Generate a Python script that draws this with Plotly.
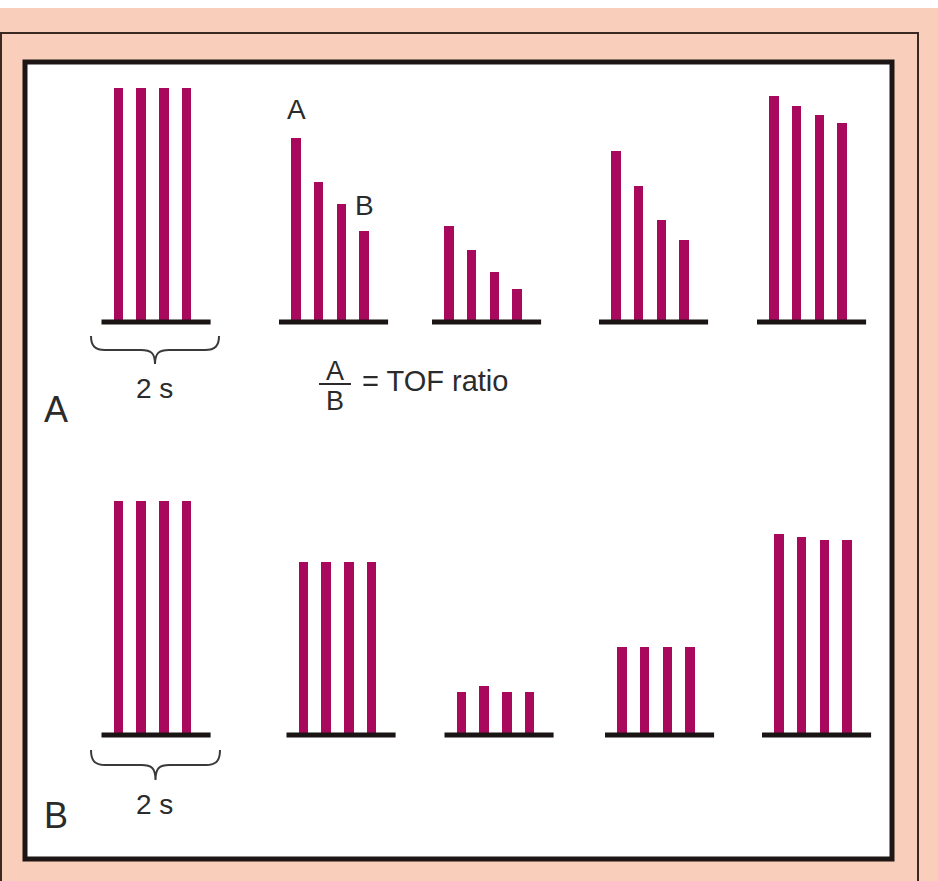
import plotly.graph_objects as go

# ---------------- data (twitch height, % of control) ----------------
panel_A_trains = [
    [100.0, 100.0, 100.0, 100.0],
    [78.6, 59.8, 50.4, 38.9],
    [41.0, 30.8, 21.4, 14.1],
    [73.1, 58.1, 43.6, 35.0],
    [96.6, 92.3, 88.5, 85.0],
]
panel_B_trains = [
    [100.0, 100.0, 100.0, 100.0],
    [74.0, 74.0, 74.0, 74.0],
    [18.4, 20.9, 18.4, 18.4],
    [37.6, 37.6, 37.6, 37.6],
    [85.9, 84.6, 83.3, 83.3],
]
panel_labels = ["A", "B"]
time_label = "2 s"
ratio_label = "= TOF ratio"

# ---------------- layout parameters (pixels) ----------------
W, H = 938, 881
A_starts = [118.5, 296, 449, 616, 774]
B_starts = [118.5, 303.5, 461.5, 622, 779]
STEP = 22.7
BAR_W = 9.5
A_base, B_base = 322, 735
PX_PER_PCT = 2.34
BAR_COLOR = "#A8095C"
INK = "#2b2b2b"
FONT = "Liberation Sans, Arial, sans-serif"


def px(x):
    return x / W


def py(y):
    return 1 - y / H


def positions(starts, trains):
    xs, ys = [], []
    for s, tr in zip(starts, trains):
        for i, v in enumerate(tr):
            xs.append(s + i * STEP)
            ys.append(v)
    return xs, ys


fig = go.Figure()
xa, ya = positions(A_starts, panel_A_trains)
xb, yb = positions(B_starts, panel_B_trains)
fig.add_trace(go.Bar(x=xa, y=ya, width=BAR_W, marker=dict(color=BAR_COLOR, line=dict(width=0)),
                     yaxis="y", showlegend=False, hoverinfo="skip"))
fig.add_trace(go.Bar(x=xb, y=yb, width=BAR_W, marker=dict(color=BAR_COLOR, line=dict(width=0)),
                     yaxis="y2", showlegend=False, hoverinfo="skip"))

shapes = []
# background & frames
shapes.append(dict(type="rect", xref="paper", yref="paper", x0=0, x1=1, y0=0, y1=py(8),
                   fillcolor="#F9CFBB", line=dict(width=0), layer="below"))
shapes.append(dict(type="rect", xref="paper", yref="paper", x0=px(1), x1=px(918), y0=py(900), y1=py(33),
                   fillcolor="rgba(0,0,0,0)", line=dict(color="#3b2820", width=2), layer="below"))
shapes.append(dict(type="rect", xref="paper", yref="paper", x0=px(25), x1=px(892), y0=py(859), y1=py(62),
                   fillcolor="white", line=dict(color="#1e1614", width=5), layer="below"))

# baselines
for starts, base in ((A_starts, A_base), (B_starts, B_base)):
    for s in starts:
        shapes.append(dict(type="line", xref="paper", yref="paper",
                           x0=px(s - 17), x1=px(s + 3 * STEP + 24), y0=py(base), y1=py(base),
                           line=dict(color="#1a1414", width=5)))


def brace(x0, x1, ytop, ymid, ytip):
    xm = (x0 + x1) / 2
    p = lambda q: f"{px(q[0])},{py(q[1])}"
    return ("M " + p((x0, ytop)) + " C " + p((x0, ymid - 4)) + " " + p((x0 + 4, ymid)) + " " + p((x0 + 14, ymid)) +
            " L " + p((xm - 14, ymid)) + " C " + p((xm - 4, ymid)) + " " + p((xm, ymid + 3)) + " " + p((xm, ytip)) +
            " C " + p((xm, ymid + 3)) + " " + p((xm + 4, ymid)) + " " + p((xm + 14, ymid)) +
            " L " + p((x1 - 14, ymid)) + " C " + p((x1 - 4, ymid)) + " " + p((x1, ymid - 4)) + " " + p((x1, ytop)))


shapes.append(dict(type="path", xref="paper", yref="paper", path=brace(91, 219, 336, 350, 364),
                   line=dict(color="#3a3a3a", width=2)))
shapes.append(dict(type="path", xref="paper", yref="paper", path=brace(91, 220, 750, 765, 780),
                   line=dict(color="#3a3a3a", width=2)))
# fraction bar
shapes.append(dict(type="line", xref="paper", yref="paper", x0=px(319), x1=px(351), y0=py(384), y1=py(384),
                   line=dict(color=INK, width=2)))

ann = []


def text(t, x, y, size, xanchor="center"):
    ann.append(dict(text=t, x=px(x), y=py(y), xref="paper", yref="paper", showarrow=False,
                    xanchor=xanchor, yanchor="middle", font=dict(family=FONT, size=size, color=INK)))


text(time_label, 154, 388, 28)
text(time_label, 154, 804, 28)
text("A", 335, 371, 27)
text("B", 335, 401, 27)
text(ratio_label, 360, 381, 29, xanchor="left")
text(panel_labels[0], 296, 110, 28)
text(panel_labels[1], 364, 205, 28)
text(panel_labels[0], 56, 409, 36)
text(panel_labels[1], 56, 815, 36)

fig.update_layout(
    width=W, height=H, autosize=False,
    margin=dict(l=0, r=0, t=0, b=0, pad=0),
    paper_bgcolor="white", plot_bgcolor="rgba(0,0,0,0)",
    barmode="overlay", bargap=0,
    shapes=shapes, annotations=ann,
    xaxis=dict(range=[0, W], visible=False, fixedrange=True),
    yaxis=dict(range=[-(H - A_base) / PX_PER_PCT, A_base / PX_PER_PCT], visible=False, domain=[0, 1]),
    yaxis2=dict(range=[-(H - B_base) / PX_PER_PCT, B_base / PX_PER_PCT], visible=False, overlaying="y"),
)

fig.write_html("out.html", config={"displayModeBar": False, "staticPlot": True},
               post_script="document.body.style.margin='0px';document.body.style.overflow='hidden';")
